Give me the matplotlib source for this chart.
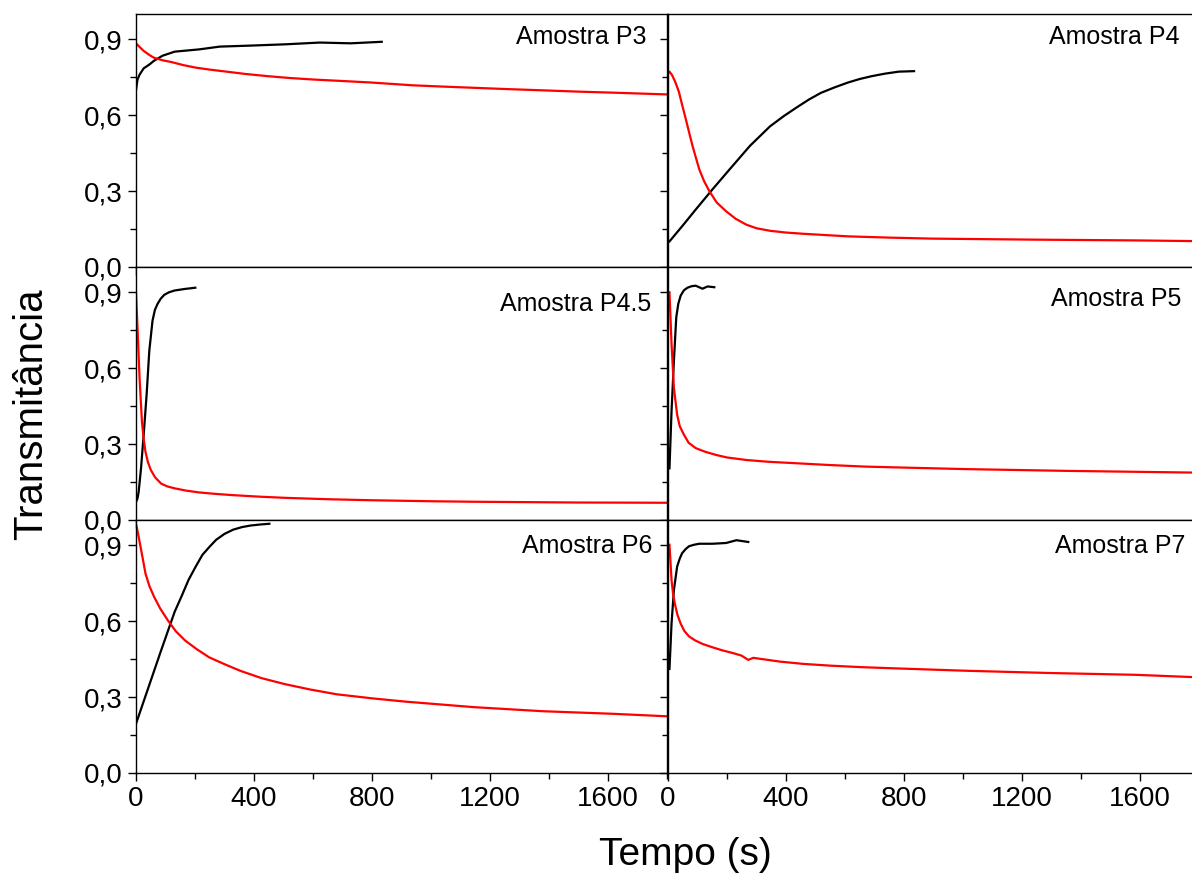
import matplotlib.pyplot as plt
from matplotlib.ticker import MultipleLocator, FuncFormatter

plt.rcParams['font.family'] = ['Liberation Sans', 'DejaVu Sans']

# amostras, na ordem dos paineis (linha a linha)
samples = ["Amostra P3", "Amostra P4", "Amostra P4.5", "Amostra P5", "Amostra P6", "Amostra P7"]

# curva preta (tempo em s, transmitancia)
black_t = [
    [0, 5, 12, 26, 45, 61, 90, 131, 214, 284, 389, 505, 623, 728, 833],
    [5, 48, 94, 151, 209, 278, 346, 392, 438, 478, 518, 565, 610, 650, 690, 735, 782, 834],
    [1, 5, 9, 17, 26, 36, 45, 56, 64, 73, 84, 96, 112, 131, 165, 201],
    [5, 12, 20, 28, 35, 43, 54, 66, 80, 94, 117, 134, 157],
    [1, 38, 85, 131, 155, 178, 202, 225, 250, 272, 300, 330, 360, 388, 420, 452],
    [5, 12, 20, 31, 40, 48, 60, 71, 88, 106, 151, 197, 232, 272],
]
black_y = [
    [0.700, 0.74, 0.76, 0.785, 0.80, 0.815, 0.835, 0.851, 0.86, 0.871, 0.875, 0.88, 0.887, 0.884, 0.89],
    [0.101, 0.161, 0.227, 0.307, 0.386, 0.479, 0.556, 0.596, 0.632, 0.662, 0.688, 0.71, 0.729, 0.743, 0.754, 0.764, 0.772, 0.774],
    [0.074, 0.085, 0.111, 0.204, 0.337, 0.496, 0.668, 0.788, 0.83, 0.854, 0.875, 0.89, 0.90, 0.907, 0.913, 0.918],
    [0.204, 0.43, 0.628, 0.801, 0.855, 0.887, 0.908, 0.918, 0.924, 0.926, 0.914, 0.923, 0.92],
    [0.198, 0.324, 0.484, 0.637, 0.70, 0.763, 0.815, 0.862, 0.895, 0.922, 0.945, 0.962, 0.972, 0.978, 0.982, 0.985],
    [0.411, 0.59, 0.723, 0.816, 0.848, 0.869, 0.885, 0.896, 0.902, 0.906, 0.906, 0.909, 0.92, 0.913],
]

# curva vermelha
red_t = [
    [0, 10, 26, 45, 61, 90, 120, 160, 202, 250, 307, 370, 448, 520, 599, 700, 798, 938, 1040, 1149, 1260, 1382, 1500, 1616, 1800],
    [0, 5, 14, 25, 37, 48, 60, 72, 83, 95, 106, 122, 140, 165, 197, 230, 266, 300, 346, 400, 461, 610, 750, 897, 1241, 1584, 1800],
    [0, 5, 12, 20, 26, 32, 40, 50, 65, 85, 105, 131, 170, 213, 270, 330, 420, 505, 650, 797, 1000, 1147, 1497, 1800],
    [5, 12, 20, 31, 40, 54, 70, 94, 125, 163, 200, 266, 340, 438, 550, 667, 800, 1011, 1355, 1800],
    [1, 8, 15, 24, 32, 45, 61, 82, 108, 135, 166, 205, 248, 300, 353, 425, 505, 590, 680, 800, 913, 1147, 1380, 1614, 1800],
    [5, 12, 17, 23, 32, 43, 55, 71, 92, 117, 150, 186, 220, 249, 272, 289, 381, 460, 553, 660, 782, 1011, 1297, 1584, 1800],
]
red_y = [
    [0.884, 0.872, 0.854, 0.838, 0.827, 0.817, 0.81, 0.798, 0.788, 0.78, 0.772, 0.763, 0.754, 0.747, 0.741, 0.735, 0.729, 0.718, 0.713, 0.708, 0.703, 0.698, 0.693, 0.689, 0.682],
    [0.765, 0.772, 0.758, 0.73, 0.692, 0.64, 0.586, 0.53, 0.479, 0.43, 0.386, 0.34, 0.30, 0.255, 0.22, 0.19, 0.167, 0.153, 0.143, 0.136, 0.131, 0.121, 0.116, 0.112, 0.108, 0.105, 0.102],
    [0.90, 0.761, 0.562, 0.39, 0.32, 0.27, 0.23, 0.198, 0.168, 0.144, 0.133, 0.125, 0.116, 0.109, 0.103, 0.098, 0.092, 0.0875, 0.082, 0.078, 0.074, 0.072, 0.069, 0.068],
    [0.90, 0.695, 0.522, 0.416, 0.37, 0.337, 0.305, 0.284, 0.27, 0.257, 0.247, 0.237, 0.23, 0.224, 0.217, 0.211, 0.207, 0.201, 0.194, 0.187],
    [0.98, 0.94, 0.896, 0.84, 0.789, 0.74, 0.697, 0.65, 0.603, 0.56, 0.524, 0.49, 0.457, 0.43, 0.404, 0.375, 0.351, 0.33, 0.311, 0.295, 0.282, 0.26, 0.244, 0.234, 0.224],
    [0.902, 0.763, 0.71, 0.67, 0.625, 0.59, 0.562, 0.54, 0.524, 0.51, 0.497, 0.484, 0.474, 0.464, 0.447, 0.455, 0.44, 0.431, 0.424, 0.418, 0.413, 0.404, 0.395, 0.388, 0.378],
]

# posicao dos rotulos (fracao do eixo)
label_pos = [(0.961, 0.909), (0.964, 0.909), (0.971, 0.855),
             (0.966, 0.874), (0.972, 0.897), (0.974, 0.897)]

fig = plt.figure(figsize=(11.92, 8.84), dpi=100)

lefts = [0.1141, 0.5604]
bottoms = [0.6980, 0.4118, 0.1256]
w, h = 0.4455, 0.2862

comma = FuncFormatter(lambda v, p: f"{v:.1f}".replace(".", ","))

for i in range(6):
    row, col = divmod(i, 2)
    ax = fig.add_axes([lefts[col], bottoms[row], w, h])
    ax.plot(black_t[i], black_y[i], color="black", lw=1.6)
    ax.plot(red_t[i], red_y[i], color="red", lw=1.6)
    ax.set_xlim(0, 1800)
    ax.set_ylim(0, 1.0)
    ax.xaxis.set_major_locator(MultipleLocator(400))
    ax.xaxis.set_minor_locator(MultipleLocator(200))
    ax.yaxis.set_major_locator(MultipleLocator(0.3))
    ax.yaxis.set_minor_locator(MultipleLocator(0.15))
    ax.yaxis.set_major_formatter(comma)
    ax.tick_params(which="both", direction="out", labelsize=20, width=1.0)
    ax.tick_params(which="major", length=6)
    ax.tick_params(which="minor", length=4)
    if col == 1:
        ax.tick_params(labelleft=False)
    if row < 2:
        ax.tick_params(labelbottom=False)
    for s in ax.spines.values():
        s.set_linewidth(1.0)
    ax.text(label_pos[i][0], label_pos[i][1], samples[i], transform=ax.transAxes,
            ha="right", va="center", fontsize=18)

fig.text(0.026, 0.531, "Transmitância", rotation=90, ha="center", va="center", fontsize=29)
fig.text(0.575, 0.033, "Tempo (s)", ha="center", va="center", fontsize=28)

plt.savefig("out.png", dpi=100)
